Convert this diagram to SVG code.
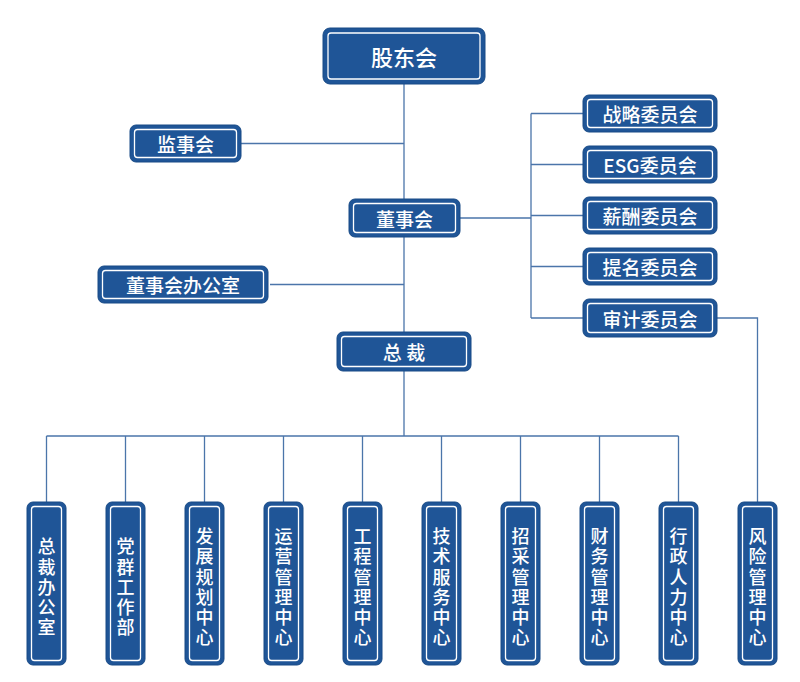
<svg xmlns="http://www.w3.org/2000/svg" width="800" height="682" viewBox="0 0 800 682">
<style>
.box{fill:#1F5597;stroke:#184A86;stroke-width:1}
.in{fill:none;stroke:#ffffff;stroke-width:1.3}
.t{fill:#ffffff;font-family:"Noto Sans CJK SC","Noto Sans",sans-serif;font-weight:500;text-anchor:middle;dominant-baseline:central}
.v{fill:#ffffff;font-family:"Noto Sans CJK SC","Noto Sans",sans-serif;font-weight:500;text-anchor:middle;writing-mode:vertical-rl;font-size:18px;letter-spacing:2.2px}
.c{fill:none;stroke:#4B75AA;stroke-width:1.3}
</style>
<rect width="800" height="682" fill="#ffffff"/>
<g id="connectors">
<path class="c" d="M404 84V436M241 143.5H404M270 284.5H404M460 218H531M531 113.5V318M531 113.5H583M531 164.5H583M531 215.5H583M531 266.5H583M531 318H583M717 318H757.5V502M46.5 436H678.5"/>
<path class="c" d="M46.5 436V502M125.5 436V502M204.5 436V502M283.5 436V502M362.5 436V502M441.5 436V502M520.5 436V502M599.5 436V502M678.5 436V502"/>
</g>
<g id="n_gudonghui"><rect class="box" x="323" y="28" width="162" height="56" rx="7"/><rect class="in" x="328" y="33" width="152" height="46" rx="3"/><text class="t" x="404" y="56" font-size="22">股东会</text></g>
<g id="n_jianshihui"><rect class="box" x="130" y="125" width="111" height="37" rx="6"/><rect class="in" x="134.5" y="129.5" width="102" height="28" rx="3"/><text class="t" x="185.5" y="143.5" font-size="19">监事会</text></g>
<g id="n_dongshihui"><rect class="box" x="349" y="199" width="111" height="38" rx="6"/><rect class="in" x="353.5" y="203.5" width="102" height="29" rx="3"/><text class="t" x="404.5" y="218" font-size="19">董事会</text></g>
<g id="n_dongban"><rect class="box" x="98" y="266" width="170" height="37" rx="6"/><rect class="in" x="102.5" y="270.5" width="161" height="28" rx="3"/><text class="t" x="183" y="284.5" font-size="19">董事会办公室</text></g>
<g id="n_zongcai"><rect class="box" x="337" y="332" width="134" height="39" rx="6"/><rect class="in" x="341.5" y="336.5" width="125" height="30" rx="3"/><text class="t" x="404" y="351.5" font-size="19" xml:space="preserve">总 裁</text></g>
<g id="n_zhanlue"><rect class="box" x="583" y="95" width="134" height="37" rx="6"/><rect class="in" x="587.5" y="99.5" width="125" height="28" rx="3"/><text class="t" x="650" y="113.5" font-size="19">战略委员会</text></g>
<g id="n_esg"><rect class="box" x="583" y="146" width="134" height="37" rx="6"/><rect class="in" x="587.5" y="150.5" width="125" height="28" rx="3"/><text class="t" x="650" y="164.5" font-size="19">ESG委员会</text></g>
<g id="n_xinchou"><rect class="box" x="583" y="197" width="134" height="37" rx="6"/><rect class="in" x="587.5" y="201.5" width="125" height="28" rx="3"/><text class="t" x="650" y="215.5" font-size="19">薪酬委员会</text></g>
<g id="n_timing"><rect class="box" x="583" y="248" width="134" height="37" rx="6"/><rect class="in" x="587.5" y="252.5" width="125" height="28" rx="3"/><text class="t" x="650" y="266.5" font-size="19">提名委员会</text></g>
<g id="n_shenji"><rect class="box" x="583" y="299" width="134" height="38" rx="6"/><rect class="in" x="587.5" y="303.5" width="125" height="29" rx="3"/><text class="t" x="650" y="318" font-size="19">审计委员会</text></g>
<g id="n_b1"><rect class="box" x="27" y="502" width="39" height="163" rx="6"/><rect class="in" x="31.5" y="506.5" width="30" height="154" rx="3"/><text class="v" x="46.5" y="588">总裁办公室</text></g>
<g id="n_b2"><rect class="box" x="106" y="502" width="39" height="163" rx="6"/><rect class="in" x="110.5" y="506.5" width="30" height="154" rx="3"/><text class="v" x="125.5" y="588">党群工作部</text></g>
<g id="n_b3"><rect class="box" x="185" y="502" width="39" height="163" rx="6"/><rect class="in" x="189.5" y="506.5" width="30" height="154" rx="3"/><text class="v" x="204.5" y="588">发展规划中心</text></g>
<g id="n_b4"><rect class="box" x="264" y="502" width="39" height="163" rx="6"/><rect class="in" x="268.5" y="506.5" width="30" height="154" rx="3"/><text class="v" x="283.5" y="588">运营管理中心</text></g>
<g id="n_b5"><rect class="box" x="343" y="502" width="39" height="163" rx="6"/><rect class="in" x="347.5" y="506.5" width="30" height="154" rx="3"/><text class="v" x="362.5" y="588">工程管理中心</text></g>
<g id="n_b6"><rect class="box" x="422" y="502" width="39" height="163" rx="6"/><rect class="in" x="426.5" y="506.5" width="30" height="154" rx="3"/><text class="v" x="441.5" y="588">技术服务中心</text></g>
<g id="n_b7"><rect class="box" x="501" y="502" width="39" height="163" rx="6"/><rect class="in" x="505.5" y="506.5" width="30" height="154" rx="3"/><text class="v" x="520.5" y="588">招采管理中心</text></g>
<g id="n_b8"><rect class="box" x="580" y="502" width="39" height="163" rx="6"/><rect class="in" x="584.5" y="506.5" width="30" height="154" rx="3"/><text class="v" x="599.5" y="588">财务管理中心</text></g>
<g id="n_b9"><rect class="box" x="659" y="502" width="39" height="163" rx="6"/><rect class="in" x="663.5" y="506.5" width="30" height="154" rx="3"/><text class="v" x="678.5" y="588">行政人力中心</text></g>
<g id="n_b10"><rect class="box" x="738" y="502" width="39" height="163" rx="6"/><rect class="in" x="742.5" y="506.5" width="30" height="154" rx="3"/><text class="v" x="757.5" y="588">风险管理中心</text></g>
</svg>
